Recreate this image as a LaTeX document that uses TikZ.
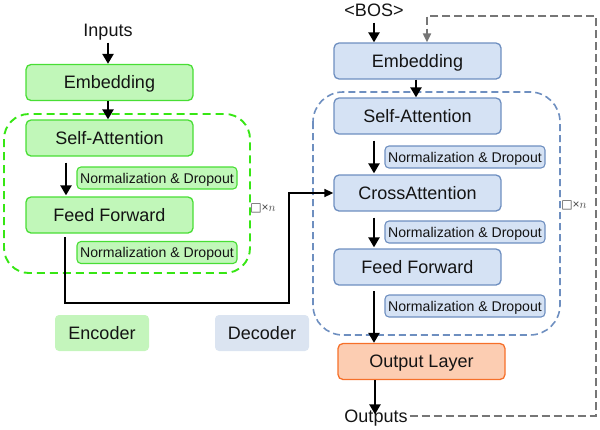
\documentclass[tikz,border=0pt]{standalone}
\usepackage{fontspec}
\setmainfont{Liberation Sans}
\newfontfamily\dejavu{DejaVu Sans}
\usetikzlibrary{arrows.meta}
\definecolor{gfill}{RGB}{193,247,185}
\definecolor{gline}{RGB}{72,222,52}
\definecolor{gdash}{RGB}{55,230,20}
\definecolor{bfill}{RGB}{213,226,244}
\definecolor{bline}{RGB}{110,143,192}
\definecolor{ofill}{RGB}{252,205,178}
\definecolor{oline}{RGB}{246,112,42}
\definecolor{encleg}{RGB}{196,245,188}
\definecolor{decleg}{RGB}{219,228,241}
\definecolor{fbgray}{RGB}{118,118,118}
\definecolor{txt}{RGB}{20,20,20}
\begin{document}
\begin{tikzpicture}[x=1pt,y=-1pt,
  box/.style={draw, rounded corners=5pt, line width=1.3pt, minimum width=167pt, minimum height=36pt, inner sep=0pt, text=txt, text height=12.9pt, text depth=0pt, font=\fontsize{18}{20}\selectfont},
  enc/.style={box, fill=gfill, draw=gline},
  dec/.style={box, fill=bfill, draw=bline},
  normbox/.style={draw, rounded corners=4pt, line width=1.1pt, minimum width=160pt, minimum height=22pt, inner sep=0pt, text=txt, text height=10.1pt, text depth=0pt, font=\fontsize{14.1}{16}\selectfont},
  encnorm/.style={normbox, fill=gfill, draw=gline},
  decnorm/.style={normbox, fill=bfill, draw=bline},
  legend/.style={rounded corners=4pt, minimum width=94pt, minimum height=36pt, inner sep=0pt, text=txt, text height=12.9pt, text depth=0pt, font=\fontsize{18}{20}\selectfont},
  lbl/.style={inner sep=0pt, text=txt, text height=12.9pt, text depth=0pt, font=\fontsize{18}{20}\selectfont},
  rep/.style={inner sep=0pt, text=fbgray!60!black, font=\fontsize{12}{14}\selectfont},
  arr/.style={-{Triangle[length=10pt,width=11pt]}, line width=2.3pt},
  link/.style={line width=1.6pt},
  feedback/.style={draw=fbgray, line width=2pt, dash pattern=on 8pt off 4pt, -{Triangle[length=9pt,width=8pt]}, fbgray}
]
\useasboundingbox (0,0) rectangle (600,429);

% dashed repeat frames
\draw[gdash, line width=1.9pt, dash pattern=on 8pt off 5pt, rounded corners=25pt] (4,114) rectangle (250,273);
\draw[bline, line width=1.6pt, dash pattern=on 7pt off 4pt, rounded corners=30pt] (313,92) rectangle (560,335);

% Encoder
\node[lbl] (inputs) at (108,30) {Inputs};
\node[enc] (eemb) at (109.5,82.5) {Embedding};
\node[enc] (esa) at (109.5,138) {Self-Attention};
\node[encnorm] (en1) at (157,178) {Normalization \& Dropout};
\node[enc] (eff) at (109.5,215) {Feed Forward};
\node[encnorm] (en2) at (157,252.5) {Normalization \& Dropout};
\node[rep] (erep) at (263,208) {{\dejavu □}×$n$};

% Decoder
\node[lbl] (bos) at (374,10) {<BOS>};
\node[dec] (demb) at (417.5,61) {Embedding};
\node[dec] (dsa) at (417.5,116) {Self-Attention};
\node[decnorm] (dn1) at (465,157) {Normalization \& Dropout};
\node[dec] (dca) at (417.5,193) {CrossAttention};
\node[decnorm] (dn2) at (465,232) {Normalization \& Dropout};
\node[dec] (dff) at (417.5,267) {Feed Forward};
\node[decnorm] (dn3) at (465,306) {Normalization \& Dropout};
\node[rep] (drep) at (574,205) {{\dejavu □}×$n$};
\node[box, fill=ofill, draw=oline] (out) at (421.5,361.5) {Output Layer};
\node[lbl] (outputs) at (376,416) {Outputs};

% Legend
\node[legend, fill=encleg] (lenc) at (102,333) {Encoder};
\node[legend, fill=decleg] (ldec) at (262,333) {Decoder};

% Encoder arrows
\draw[arr] ([yshift=-6pt]inputs.south) -- (eemb.north -| inputs.south);
\draw[arr] ([xshift=-1.5pt]eemb.south) -- ([xshift=-1.5pt]esa.north);
\draw[arr] ([xshift=-43.5pt,yshift=-6pt]esa.south) -- ([xshift=-43.5pt,yshift=1pt]eff.north);

% Encoder -> Decoder
\coordinate (effout) at (65,237);
\coordinate (bend) at (289,303);
\draw[link, -{Triangle[length=9pt,width=8pt]}] (effout) |- (bend) |- (dca.west);

% Decoder arrows
\draw[arr] ([yshift=-6pt]bos.south) -- (demb.north -| bos.south);
\draw[arr] ([xshift=-1.5pt]demb.south) -- ([xshift=-1.5pt]dsa.north);
\draw[arr] ([xshift=-43.5pt,yshift=-6pt]dsa.south) -- ([xshift=-43.5pt,yshift=1pt]dca.north);
\draw[arr] ([xshift=-43.5pt,yshift=-6pt]dca.south) -- ([xshift=-43.5pt,yshift=1pt]dff.north);
\coordinate (dffout) at (374,291);
\draw[arr] (dffout) -- (dffout |- out.north);
\draw[arr] ([xshift=-46.5pt]out.south) -- ([xshift=-46.5pt,yshift=-5pt]out.south |- outputs.north);

% Feedback
\coordinate (fbr) at (596,16);
\draw[feedback] ([xshift=2pt]outputs.east) -| (fbr) -| ([xshift=9.5pt]demb.north);
\end{tikzpicture}
\end{document}
